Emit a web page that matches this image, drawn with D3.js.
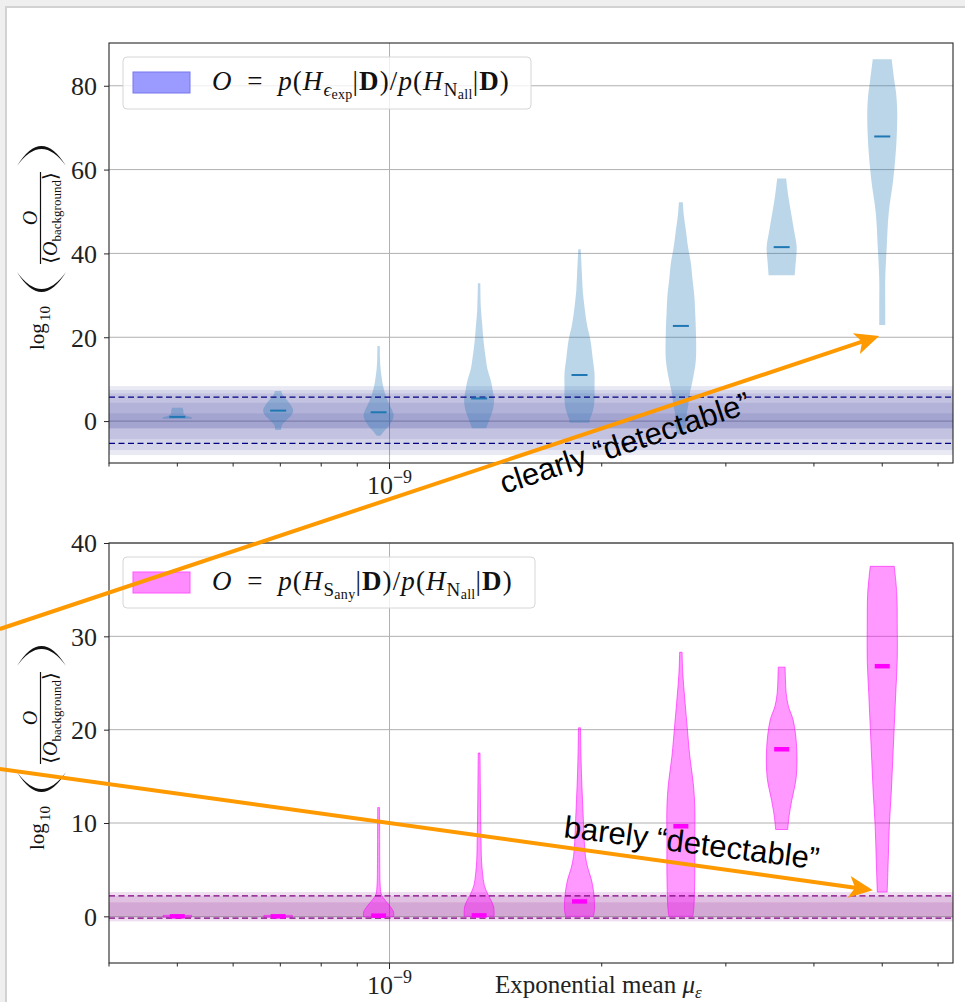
<!DOCTYPE html>
<html><head><meta charset="utf-8">
<script src="https://cdn.jsdelivr.net/npm/d3@7"></script>
<style>
html,body{margin:0;padding:0;background:#fff;}
svg{display:block;}
</style></head><body>
<svg id="chart" width="965" height="1002"></svg>
<script>
// ---- data -------------------------------------------------------------
// Exponential means at which the violins sit
const muValues = [5.00e-10, 6.95e-10, 9.65e-10, 1.34e-9, 1.86e-9, 2.59e-9, 3.60e-9, 5.00e-9];
const xMajorTicks = [1e-9];
const xMinorTicks = [4e-10, 5e-10, 6e-10, 7e-10, 8e-10, 9e-10, 2e-9, 3e-9, 4e-9, 5e-9, 6e-9];
const yTicksTop = [0, 20, 40, 60, 80];
const yTicksBottom = [0, 10, 20, 30, 40];

// Violin outlines for O = p(H_eps_exp|D)/p(H_N_all|D): [log10 ratio, relative density]
const expProfiles = [
  [[0.55,1.0],[0.9,0.95],[1.3,0.6],[1.8,0.42],[2.6,0.4],[3.2,0.35]],
  [[-2.1,0.2],[-1.0,0.25],[0.2,0.55],[1.5,0.9],[2.6,1.0],[3.8,0.85],[5.0,0.6],[6.3,0.3],[7.2,0.22]],
  [[-3.5,0.12],[-2.5,0.35],[-1.0,0.7],[0.5,0.95],[1.5,1.0],[3.0,0.85],[4.5,0.65],[6.0,0.48],[8.0,0.32],[10,0.22],[12.5,0.13],[15,0.09],[17.9,0.08]],
  [[-1.7,0.47],[0.2,0.67],[2.5,0.9],[5.0,1.0],[7.5,0.9],[9.8,0.77],[12.5,0.55],[15.3,0.43],[19,0.3],[23.3,0.2],[27,0.12],[32.9,0.08]],
  [[-0.4,0.65],[0.5,0.7],[2.5,0.9],[5,1.0],[8,1.0],[11.4,1.0],[15,0.88],[19.3,0.73],[23,0.5],[27.3,0.33],[31,0.22],[35.2,0.16],[41,0.08]],
  [[-3,0.27],[-1,0.35],[1.9,0.4],[4,0.5],[6.7,0.6],[10,0.8],[14.6,1.0],[21.7,1.0],[26,0.95],[29.7,0.9],[34,0.77],[37.6,0.67],[41.5,0.48],[45.6,0.33],[49,0.2],[52.2,0.13]],
  [[34.8,0.87],[37.6,0.93],[41.6,1.0],[45,0.85],[49.6,0.63],[53.5,0.45],[57.9,0.3]],
  [[22.9,0.2],[28,0.2],[33.7,0.2],[41.6,0.3],[49.6,0.43],[57.5,0.73],[65.5,0.93],[73.4,1.0],[78,0.93],[81.4,0.8],[86.3,0.63]]
];
const expMedians = [1.0, 2.5, 2.1, 5.4, 11.0, 22.7, 41.5, 67.9];

// Violin outlines for O = p(H_S_any|D)/p(H_N_all|D)
const anyProfiles = [
  [[-0.1,0.95],[0.1,0.95]],
  [[-0.1,0.95],[0.1,0.95]],
  [[-0.05,1.0],[0.46,1.0],[1.0,0.8],[1.4,0.6],[2.0,0.3],[2.4,0.17],[3.5,0.1],[5,0.08],[8,0.07],[11.65,0.06]],
  [[0,1.0],[1.0,0.97],[1.7,0.8],[2.4,0.57],[3.3,0.35],[4.6,0.23],[6,0.16],[8.1,0.13],[11,0.1],[14,0.08],[17.5,0.06]],
  [[0,0.93],[0.7,1.0],[1.4,1.0],[2.5,0.95],[3.9,0.8],[5.2,0.55],[6.4,0.4],[8,0.32],[9.9,0.27],[12.5,0.2],[15.3,0.13],[18,0.09],[20.2,0.07]],
  [[0,0.8],[1.0,0.87],[4.6,0.93],[8.1,0.93],[11.7,0.93],[14.2,0.83],[17.1,0.6],[20.7,0.4],[23.5,0.25],[26,0.13],[28.3,0.08]],
  [[9.3,0.4],[10.8,0.5],[12.4,0.67],[14.9,0.97],[18.1,1.0],[21,0.77],[22.5,0.45],[23.9,0.3],[25.5,0.25],[26.7,0.23]],
  [[2.6,0.33],[6,0.4],[9.6,0.47],[13.2,0.6],[16.7,0.7],[20.3,0.8],[23.9,0.9],[27.4,1.0],[31,1.0],[34.6,0.97],[37.5,0.8]]
];
const anyMedians = [0.0, 0.0, 0.07, 0.1, 1.6, 9.65, 17.9, 26.8];

// Background (noise-only) percentile bands and their dashed bounds
const expBands = [[-8.1, 8.35], [-6.9, 7.4], [-4.3, 6.6], [-1.74, 4.37], [-1.74, 1.84]];
const expDashed = [-5.3, 5.7];
const anyBands = [[-0.54, 2.6], [-0.2, 2.2], [0.1, 1.5]];
const anyDashed = [-0.2, 2.2];

// ---- drawing ----------------------------------------------------------
const svg = d3.select('#chart');
const SERIF = "'Liberation Serif','DejaVu Serif',serif";
const SANS = "'Liberation Sans',Arial,sans-serif";

// page frame
svg.append('rect').attr('width', 965).attr('height', 1002).attr('fill', '#efefef');
svg.append('rect').attr('x', 5).attr('y', 6).attr('width', 962).attr('height', 998).attr('fill', '#d2d2d2');
svg.append('rect').attr('x', 7).attr('y', 8).attr('width', 960).attr('height', 996).attr('fill', '#ffffff');

const plotLeft = 109, plotRight = 953;
const x = d3.scaleLog().domain([4.0e-10, 6.3e-9]).range([plotLeft, plotRight]);
const halfW = d3.scaleLinear().domain([0, 1]).range([0, 15]);

const panels = [
  {
    top: 43, bottom: 463, domain: [-10, 90.2], ticks: yTicksTop,
    profiles: expProfiles, medians: expMedians,
    bands: expBands, bandColor: '#262690', bandOpacity: 0.1,
    dashed: expDashed, dashColor: '#000080',
    fill: '#1f77b4', fillOpacity: 0.3, stroke: 'none',
    medColor: '#1f77b4', medWidth: 2, medHalf: 8,
    legend: {x: 123, y: 57, w: 408, h: 52, patch: '#9a9aff', patchStroke: '#7777ee', sub: 'ϵ', subItalic: true, subsub: 'exp'}
  },
  {
    top: 543, bottom: 963, domain: [-5, 40], ticks: yTicksBottom,
    profiles: anyProfiles, medians: anyMedians,
    bands: anyBands, bandColor: '#800080', bandOpacity: 0.13,
    dashed: anyDashed, dashColor: '#800080',
    fill: '#ff00ff', fillOpacity: 0.4, stroke: '#ff00ff',
    medColor: '#ff00ff', medWidth: 4.5, medHalf: 7.5,
    legend: {x: 123, y: 557, w: 412, h: 51, patch: '#ff8cff', patchStroke: '#ff55ff', sub: 'S', subItalic: false, subsub: 'any'}
  }
];

panels.forEach((p, pi) => {
  const y = d3.scaleLinear().domain(p.domain).range([p.bottom, p.top]);
  const g = svg.append('g');

  // grid
  g.append('g').selectAll('line').data(p.ticks).join('line')
    .attr('x1', plotLeft).attr('x2', plotRight)
    .attr('y1', d => y(d)).attr('y2', d => y(d))
    .attr('stroke', '#b0b0b0').attr('stroke-width', 1);
  g.append('g').selectAll('line').data(xMajorTicks).join('line')
    .attr('x1', d => x(d)).attr('x2', d => x(d))
    .attr('y1', p.top).attr('y2', p.bottom)
    .attr('stroke', '#b0b0b0').attr('stroke-width', 1);

  // background bands
  g.append('g').selectAll('rect').data(p.bands).join('rect')
    .attr('x', plotLeft).attr('width', plotRight - plotLeft)
    .attr('y', d => y(d[1])).attr('height', d => y(d[0]) - y(d[1]))
    .attr('fill', p.bandColor).attr('fill-opacity', p.bandOpacity);

  // violins
  const area = d3.area()
    .y(d => y(d[0]))
    .curve(d3.curveCatmullRom.alpha(0.5));
  g.append('g').selectAll('path').data(p.profiles).join('path')
    .attr('d', (prof, i) => {
      const cx = x(muValues[i]);
      return area.x0(d => cx - halfW(d[1])).x1(d => cx + halfW(d[1]))(prof);
    })
    .attr('fill', p.fill).attr('fill-opacity', p.fillOpacity)
    .attr('stroke', p.stroke).attr('stroke-opacity', 0.55).attr('stroke-width', 1);

  // dashed background bounds
  g.append('g').selectAll('line').data(p.dashed).join('line')
    .attr('x1', plotLeft).attr('x2', plotRight)
    .attr('y1', d => y(d)).attr('y2', d => y(d))
    .attr('stroke', p.dashColor).attr('stroke-width', 1.3).attr('stroke-dasharray', '6,3.5');

  // medians
  g.append('g').selectAll('line').data(p.medians).join('line')
    .attr('x1', (d, i) => x(muValues[i]) - p.medHalf).attr('x2', (d, i) => x(muValues[i]) + p.medHalf)
    .attr('y1', d => y(d)).attr('y2', d => y(d))
    .attr('stroke', p.medColor).attr('stroke-width', p.medWidth);

  // frame
  g.append('rect').attr('x', plotLeft).attr('y', p.top)
    .attr('width', plotRight - plotLeft).attr('height', p.bottom - p.top)
    .attr('fill', 'none').attr('stroke', '#262626').attr('stroke-width', 1.1);

  // y axis
  const ya = g.append('g').attr('transform', `translate(${plotLeft},0)`)
    .call(d3.axisLeft(y).tickValues(p.ticks).tickSize(5).tickPadding(7).tickFormat(d3.format('d')));
  ya.select('.domain').remove();
  ya.selectAll('line').attr('stroke', '#262626');
  ya.selectAll('text').attr('font-family', SERIF).attr('font-size', 26).attr('fill', '#222').attr('dy', '0.34em');

  // x axis (log, minor + major ticks)
  const xa = g.append('g').attr('transform', `translate(0,${p.bottom})`);
  xa.selectAll('line.minor').data(xMinorTicks).join('line').attr('class', 'minor')
    .attr('x1', d => x(d)).attr('x2', d => x(d)).attr('y1', 0).attr('y2', 3.5)
    .attr('stroke', '#262626');
  xa.selectAll('line.major').data(xMajorTicks).join('line').attr('class', 'major')
    .attr('x1', d => x(d)).attr('x2', d => x(d)).attr('y1', 0).attr('y2', 6)
    .attr('stroke', '#262626');
  const xl = xa.selectAll('text.major').data(xMajorTicks).join('text').attr('class', 'major')
    .attr('x', d => x(d)).attr('y', 31).attr('text-anchor', 'middle')
    .attr('font-family', SERIF).attr('fill', '#222');
  xl.append('tspan').attr('font-size', 26).text(d => '10');
  xl.append('tspan').attr('font-size', 18).attr('dy', -11).text(d => '−' + Math.round(-Math.log10(d)));

  // legend
  const L = p.legend;
  const lg = g.append('g');
  lg.append('rect').attr('x', L.x).attr('y', L.y).attr('width', L.w).attr('height', L.h)
    .attr('rx', 4).attr('fill', '#fff').attr('fill-opacity', 0.8).attr('stroke', '#d6d6d6');
  lg.append('rect').attr('x', L.x + 10).attr('y', L.y + 15).attr('width', 57).attr('height', 21)
    .attr('fill', L.patch).attr('stroke', L.patchStroke).attr('stroke-width', 1);
  const t = lg.append('text').attr('x', L.x + 89).attr('y', L.y + 33)
    .attr('font-family', SERIF).attr('font-size', 27).attr('letter-spacing', 1.1).attr('fill', '#111');
  const add = (s, opt = {}) => {
    const ts = t.append('tspan').text(s);
    if (opt.i) ts.attr('font-style', 'italic');
    if (opt.b) ts.attr('font-weight', 'bold');
    if (opt.fs) ts.attr('font-size', opt.fs).attr('letter-spacing', 0.3);
    if (opt.dy) ts.attr('dy', opt.dy);
    return ts;
  };
  add('O', {i: true}); add('\u2002=\u2002'); add('p', {i: true}); add('('); add('H', {i: true});
  add(L.sub, {i: L.subItalic, fs: 19, dy: 6}); add(L.subsub, {fs: 14, dy: 3});
  add('|', {dy: -9}); add('D', {b: true}); add(')/'); add('p', {i: true}); add('('); add('H', {i: true});
  add('N', {fs: 19, dy: 6}); add('all', {fs: 14, dy: 3});
  add('|', {dy: -9}); add('D', {b: true}); add(')');

  // y label: log10( O / <O_background> ), rotated
  const cy = pi === 0 ? 350 : 850;
  const yl = svg.append('g').attr('transform', `translate(0,${cy}) rotate(-90)`)
    .attr('font-family', SERIF).attr('fill', '#111');
  yl.append('text').attr('x', 0).attr('y', 44).attr('font-size', 21).text('log');
  yl.append('text').attr('x', 29).attr('y', 50).attr('font-size', 15).text('10');
  yl.append('path').attr('d', 'M78,17 Q38,41.5 78,66 Q44,41.5 78,17 Z');
  yl.append('path').attr('d', 'M184,17 Q224,41.5 184,66 Q218,41.5 184,17 Z');
  yl.append('line').attr('x1', 86).attr('x2', 178).attr('y1', 40.5).attr('y2', 40.5)
    .attr('stroke', '#111').attr('stroke-width', 1.2);
  yl.append('text').attr('x', 132).attr('y', 36.5).attr('text-anchor', 'middle')
    .attr('font-size', 20).attr('font-style', 'italic').text('O');
  const den = yl.append('text').attr('x', 132).attr('y', 57).attr('text-anchor', 'middle').attr('font-size', 20);
  den.append('tspan').text('⟨');
  den.append('tspan').attr('font-style', 'italic').text('O');
  den.append('tspan').attr('font-size', 13).attr('dy', 4).text('background');
  den.append('tspan').attr('dy', -4).text('⟩');
});

// x label
svg.append('text').attr('x', 495).attr('y', 993)
  .attr('font-family', SERIF).attr('font-size', 25).attr('fill', '#222')
  .call(t => {
    t.append('tspan').text('Exponential mean ');
    t.append('tspan').attr('font-style', 'italic').text('μ');
    t.append('tspan').attr('font-style', 'italic').attr('font-size', 17).attr('dy', 5).text('ε');
  });

// ---- annotations --------------------------------------------------------
const yTop = d3.scaleLinear().domain(panels[0].domain).range([panels[0].bottom, panels[0].top]);
const yBot = d3.scaleLinear().domain(panels[1].domain).range([panels[1].bottom, panels[1].top]);
const notes = [
  {from: [2.8e-10, yTop.invert(629)], to: [4.95e-9, 20.3], yS: yTop, text: 'clearly “detectable”', at: 504, off: 33, rot: -18.3},
  {from: [2.8e-10, yBot.invert(769)], to: [4.85e-9, 2.8], yS: yBot, text: 'barely “detectable”', at: 563, off: -10, rot: 7.2}
];
const ORANGE = '#ff9900';
notes.forEach(n => {
  const x0 = x(n.from[0]), y0 = n.yS(n.from[1]);
  const x1 = x(n.to[0]), y1 = n.yS(n.to[1]);
  const dx = x1 - x0, dy = y1 - y0, len = Math.hypot(dx, dy);
  const ux = dx / len, uy = dy / len, px = -uy, py = ux;
  const headL = 24, headW = 11, notch = 6;
  const bx = x1 - ux * headL, by = y1 - uy * headL;
  svg.append('line').attr('x1', x0).attr('y1', y0)
    .attr('x2', x1 - ux * (headL - notch)).attr('y2', y1 - uy * (headL - notch))
    .attr('stroke', ORANGE).attr('stroke-width', 4);
  svg.append('path').attr('fill', ORANGE).attr('d',
    `M${x1},${y1} L${bx + px * headW},${by + py * headW} L${x1 - ux * (headL - notch)},${y1 - uy * (headL - notch)} L${bx - px * headW},${by - py * headW} Z`);
  const ty = y0 + (n.at - x0) * dy / dx + n.off;
  svg.append('text').attr('transform', `translate(${n.at},${ty}) rotate(${n.rot})`)
    .attr('font-family', SANS).attr('font-size', 31).attr('fill', '#000').text(n.text);
});
</script>
</body></html>
